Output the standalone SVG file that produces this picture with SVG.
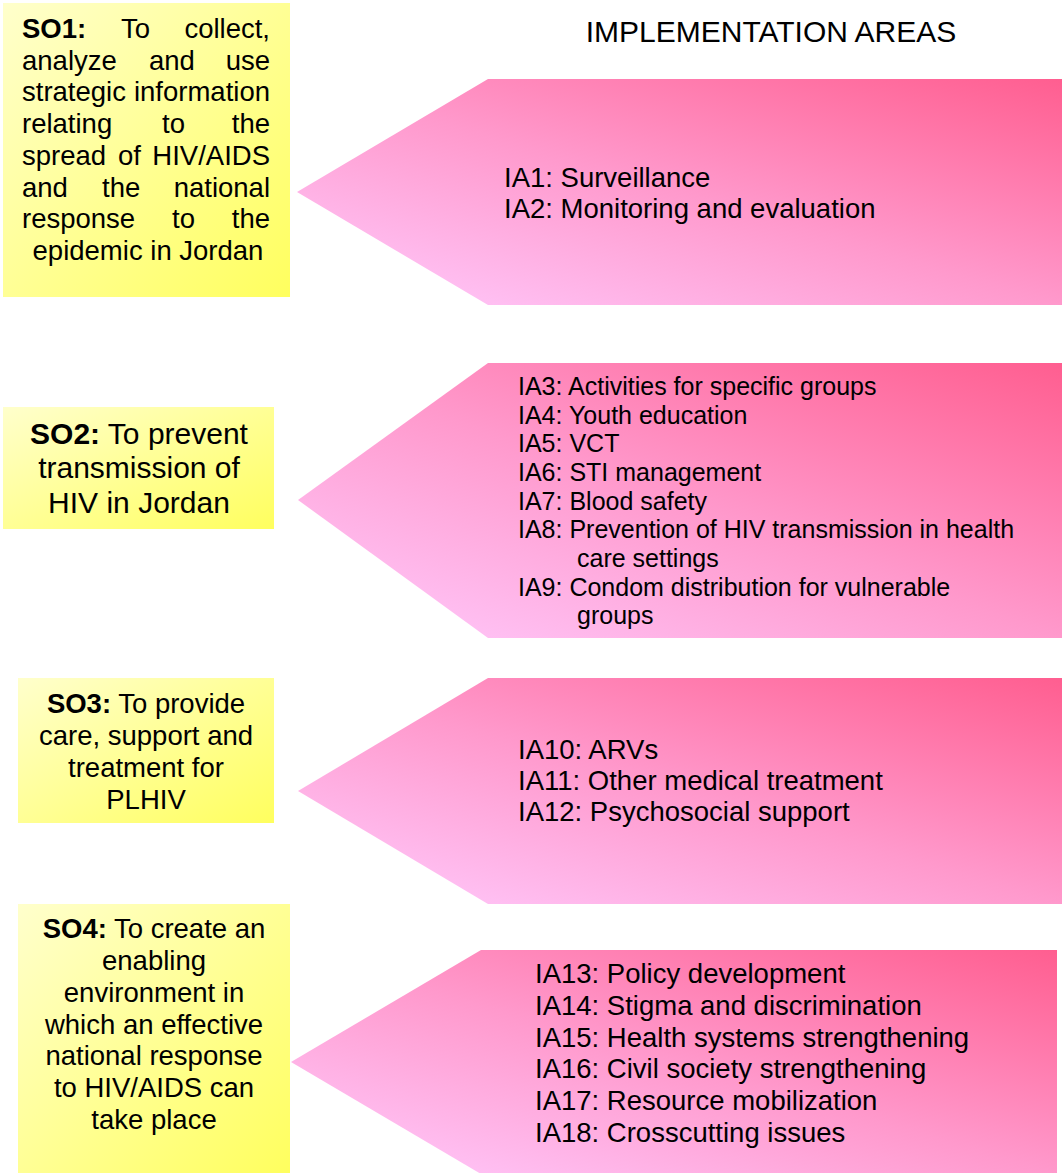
<svg xmlns="http://www.w3.org/2000/svg" width="1062" height="1173" viewBox="0 0 1062 1173">
<defs>
<linearGradient id="yel" x1="0" y1="0" x2="1" y2="1">
<stop offset="0" stop-color="#FFFFCC"/>
<stop offset="1" stop-color="#FFFF5E"/>
</linearGradient>
<linearGradient id="pink" x1="0" y1="1" x2="1" y2="0">
<stop offset="0" stop-color="#FFCCFF"/>
<stop offset="0.5" stop-color="#FF99CC"/>
<stop offset="1" stop-color="#FF5E90"/>
</linearGradient>
<style>
text{font-family:"Liberation Sans",Arial,sans-serif;fill:#000;}
.so{fill:url(#yel);}
.ia{fill:url(#pink);}
.t27{font-size:27.5px;}
.t30{font-size:30px;}
.t25{font-size:25px;}
.b{font-weight:bold;}
.m{text-anchor:middle;}
.e{text-anchor:end;}
</style>
</defs>
<rect width="1062" height="1173" fill="#fff"/>
<text class="t30 m" x="771" y="42">IMPLEMENTATION AREAS</text>

<g id="so1">
<rect class="so" x="3" y="3" width="287" height="294"/>
<g class="t27">
<text x="22" y="38" class="b">SO1:</text><text x="121" y="38">To</text><text x="270" y="38" class="e">collect,</text>
<text x="22" y="70">analyze</text><text x="149" y="70">and</text><text x="270" y="70" class="e">use</text>
<text x="22" y="101">strategic</text><text x="270" y="101" class="e">information</text>
<text x="22" y="133">relating</text><text x="162" y="133">to</text><text x="270" y="133" class="e">the</text>
<text x="22" y="165">spread</text><text x="118" y="165">of</text><text x="270" y="165" class="e">HIV/AIDS</text>
<text x="22" y="197">and</text><text x="102" y="197">the</text><text x="270" y="197" class="e">national</text>
<text x="22" y="228">response</text><text x="172" y="228">to</text><text x="270" y="228" class="e">the</text>
<text x="148" y="260" class="m">epidemic in Jordan</text>
</g>
</g>

<g id="ia1">
<polygon class="ia" points="297,192 488,79 1062,79 1062,305 488,305"/>
<text class="t27" x="504" y="187">IA1: Surveillance</text>
<text class="t27" x="504" y="218">IA2: Monitoring and evaluation</text>
</g>

<g id="so2">
<rect class="so" x="3" y="407" width="271" height="122"/>
<text class="t30 m" x="139" y="444"><tspan class="b">SO2:</tspan> To prevent</text>
<text class="t30 m" x="139" y="478">transmission of</text>
<text class="t30 m" x="139" y="513">HIV in Jordan</text>
</g>

<g id="ia2">
<polygon class="ia" points="298,500 488,363 1062,363 1062,638 488,638"/>
<g class="t25">
<text x="518" y="395">IA3: Activities for specific groups</text>
<text x="518" y="424">IA4: Youth education</text>
<text x="518" y="452">IA5: VCT</text>
<text x="518" y="481">IA6: STI management</text>
<text x="518" y="510">IA7: Blood safety</text>
<text x="518" y="538">IA8: Prevention of HIV transmission in health</text>
<text x="577" y="567">care settings</text>
<text x="518" y="596">IA9: Condom distribution for vulnerable</text>
<text x="577" y="624">groups</text>
</g>
</g>

<g id="so3">
<rect class="so" x="18" y="678" width="256" height="145"/>
<g class="t27 m">
<text x="146" y="713"><tspan class="b">SO3:</tspan> To provide</text>
<text x="146" y="745">care, support and</text>
<text x="146" y="777">treatment for</text>
<text x="146" y="809">PLHIV</text>
</g>
</g>

<g id="ia3">
<polygon class="ia" points="298,791 488,678 1062,678 1062,904 488,904"/>
<g class="t27">
<text x="518" y="759">IA10: ARVs</text>
<text x="518" y="790">IA11: Other medical treatment</text>
<text x="518" y="821">IA12: Psychosocial support</text>
</g>
</g>

<g id="so4">
<rect class="so" x="18" y="904" width="272" height="269"/>
<g class="t27 m">
<text x="154" y="938"><tspan class="b">SO4:</tspan> To create an</text>
<text x="154" y="970">enabling</text>
<text x="154" y="1002">environment in</text>
<text x="154" y="1034">which an effective</text>
<text x="154" y="1065">national response</text>
<text x="154" y="1097">to HIV/AIDS can</text>
<text x="154" y="1129">take place</text>
</g>
</g>

<g id="ia4">
<polygon class="ia" points="291,1062 481,950 1057,950 1057,1174 481,1174"/>
<g class="t27">
<text x="535" y="983">IA13: Policy development</text>
<text x="535" y="1015">IA14: Stigma and discrimination</text>
<text x="535" y="1047">IA15: Health systems strengthening</text>
<text x="535" y="1078">IA16: Civil society strengthening</text>
<text x="535" y="1110">IA17: Resource mobilization</text>
<text x="535" y="1142">IA18: Crosscutting issues</text>
</g>
</g>
</svg>
